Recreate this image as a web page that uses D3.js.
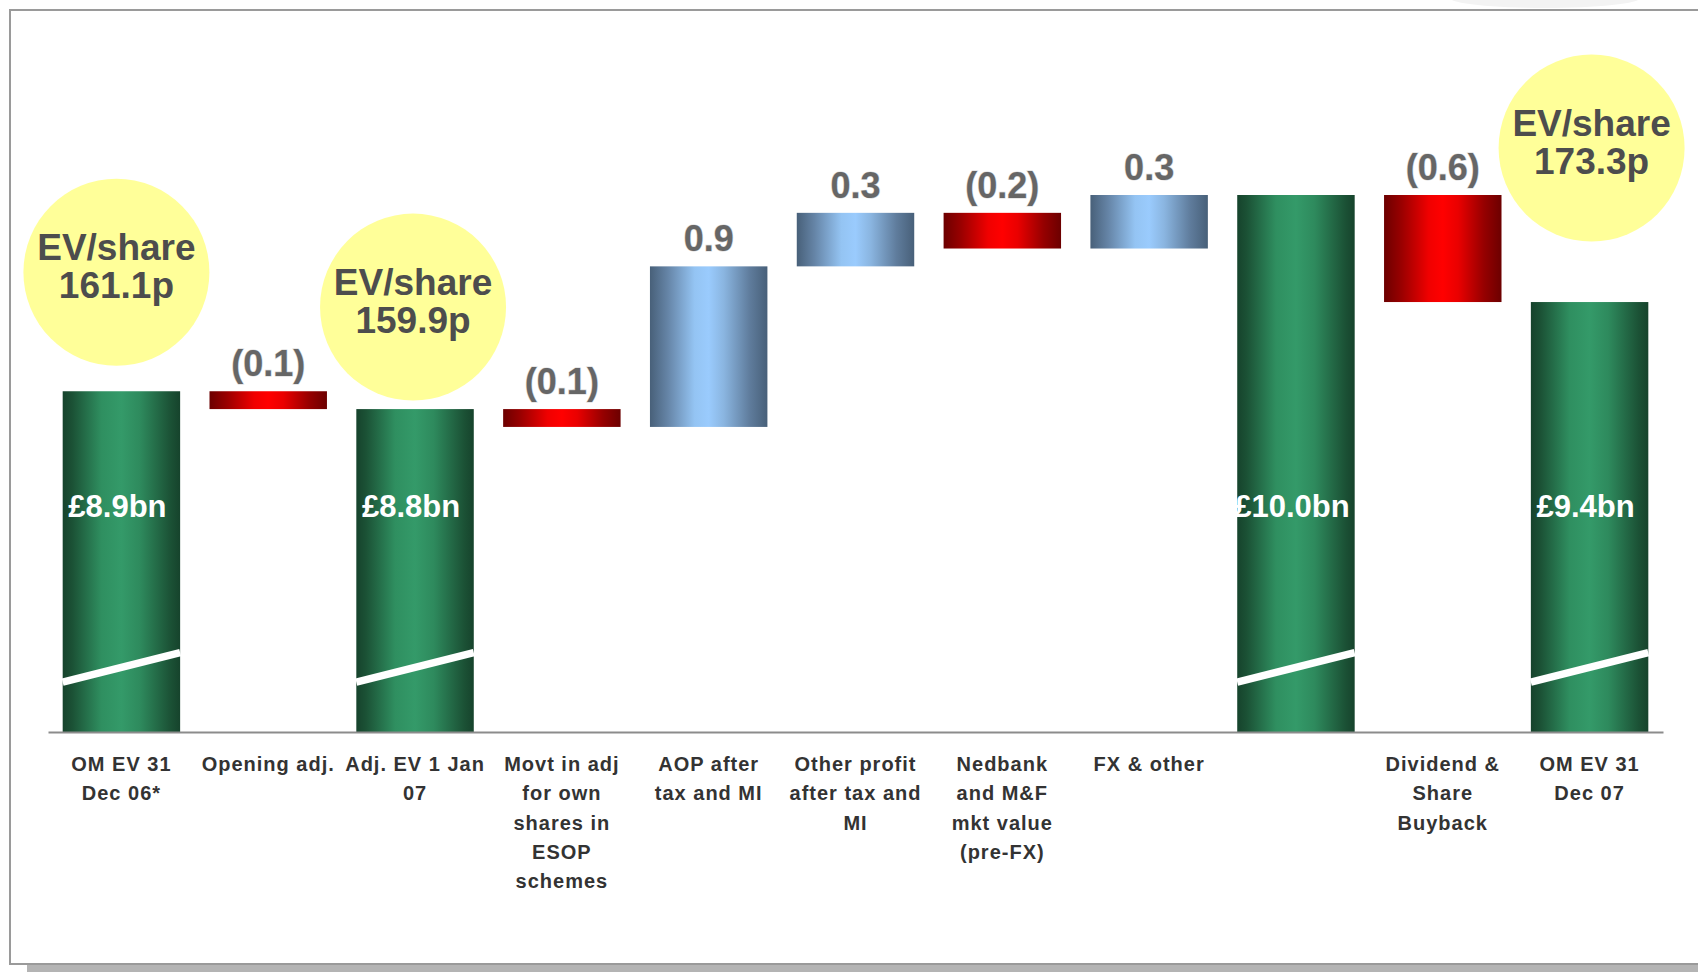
<!DOCTYPE html>
<html>
<head>
<meta charset="utf-8">
<script src="https://cdn.jsdelivr.net/npm/d3@7"></script>
<style>
  html, body { margin: 0; padding: 0; background: #ffffff; }
  svg { display: block; font-family: "Liberation Sans", Arial, Helvetica, sans-serif; }
</style>
</head>
<body>
<svg id="chart" width="1698" height="972"></svg>
<script>
// ---- data ----
const categories = [
  "OM EV 31\nDec 06*",
  "Opening adj.",
  "Adj. EV 1 Jan\n07",
  "Movt in adj\nfor own\nshares in\nESOP\nschemes",
  "AOP after\ntax and MI",
  "Other profit\nafter tax and\nMI",
  "Nedbank\nand M&F\nmkt value\n(pre-FX)",
  "FX & other",
  "",
  "Dividend &\nShare\nBuyback",
  "OM EV 31\nDec 07"
];
const barKinds = ["total", "delta", "total", "delta", "delta", "delta", "delta", "delta", "total", "delta", "total"];
const values = [8.9, -0.1, 8.8, -0.1, 0.9, 0.3, -0.2, 0.3, 10.0, -0.6, 9.4];
const evShareLabels = ["161.1p", null, "159.9p", null, null, null, null, null, null, null, "173.3p"];
const evTitle = "EV/share";
const yDomain = [6.99, 10.0];

// ---- layout ----
const W = 1698, H = 972;
const svg = d3.select("#chart");
const x = d3.scaleBand().domain(d3.range(categories.length)).range([48, 1663])
  .paddingInner(0.2).paddingOuter(0.1);
const y = d3.scaleLinear().domain(yDomain).range([732, 195]);
const evOffsetY = [119, 0, 102, 0, 0, 0, 0, 0, 0, 0, 154];
const evOffsetX = [-5, 0, -2, 0, 0, 0, 0, 0, 0, 0, 2];

// gradients
const defs = svg.append("defs");
function grad(id, stops) {
  const g = defs.append("linearGradient").attr("id", id).attr("x1", "0").attr("x2", "1").attr("y1", "0").attr("y2", "0");
  stops.forEach(s => g.append("stop").attr("offset", s[0]).attr("stop-color", s[1]));
}
grad("gGreen", [[0, "#16432c"], [0.08, "#1b5135"], [0.33, "#2f8f60"], [0.5, "#349a69"], [0.66, "#2e8a5d"], [0.92, "#1b5135"], [1, "#16432c"]]);
grad("gRed", [[0, "#6c0000"], [0.15, "#9a0000"], [0.38, "#f00000"], [0.5, "#ff0000"], [0.63, "#ea0000"], [0.85, "#960000"], [1, "#6c0000"]]);
grad("gBlue", [[0, "#486079"], [0.15, "#6584a6"], [0.38, "#94c4f3"], [0.5, "#9acbfd"], [0.63, "#8ab5e0"], [0.85, "#5f7c9c"], [1, "#486079"]]);

// frame and shadow
svg.append("rect").attr("x", 27).attr("y", 965).attr("width", W - 27).attr("height", 7).attr("fill", "#b4b4b4");
svg.append("ellipse").attr("cx", 1545).attr("cy", -2).attr("rx", 95).attr("ry", 10).attr("fill", "#f3f3f3");
svg.append("rect").attr("x", 10).attr("y", 10).attr("width", W + 20).attr("height", 954)
  .attr("fill", "none").attr("stroke", "#9a9a9a").attr("stroke-width", 2);

// waterfall computation
let running = 0;
const bars = values.map((v, i) => {
  let lo, hi;
  if (barKinds[i] === "total") { lo = yDomain[0]; hi = v; running = v; }
  else { const s = running; running = s + v; lo = Math.min(s, running); hi = Math.max(s, running); }
  return { i, v, kind: barKinds[i], lo, hi };
});

const fillFor = d => d.kind === "total" ? "url(#gGreen)" : (d.v < 0 ? "url(#gRed)" : "url(#gBlue)");

svg.append("g").selectAll("rect").data(bars).join("rect")
  .attr("x", d => x(d.i)).attr("width", x.bandwidth())
  .attr("y", d => y(d.hi)).attr("height", d => y(d.lo) - y(d.hi))
  .attr("fill", fillFor);

// axis break marks on total bars
const totals = bars.filter(d => d.kind === "total");
svg.append("g").selectAll("line").data(totals).join("line")
  .attr("x1", d => x(d.i)).attr("x2", d => x(d.i) + x.bandwidth())
  .attr("y1", y(7.27)).attr("y2", y(7.435))
  .attr("stroke", "#ffffff").attr("stroke-width", 7.5);

// total labels inside green bars
svg.append("g").selectAll("text").data(totals).join("text")
  .attr("x", d => x(d.i) + x.bandwidth() / 2 - 4).attr("y", 517)
  .attr("text-anchor", "middle").attr("fill", "#ffffff")
  .attr("font-size", 31).attr("font-weight", "bold")
  .text(d => "£" + d.v.toFixed(1) + "bn");

// delta labels
const deltas = bars.filter(d => d.kind === "delta");
svg.append("g").selectAll("text").data(deltas).join("text")
  .attr("x", d => x(d.i) + x.bandwidth() / 2).attr("y", d => y(d.hi) - 15)
  .attr("text-anchor", "middle").attr("fill", "#666666")
  .attr("font-size", 36).attr("font-weight", "bold")
  .style("paint-order", "stroke").attr("stroke", "#d8d8d8").attr("stroke-width", 1.2)
  .text(d => d.v < 0 ? "(" + Math.abs(d.v).toFixed(1) + ")" : d.v.toFixed(1));

// axis
const axisG = svg.append("g").attr("transform", "translate(0,732)")
  .call(d3.axisBottom(x).tickSize(0).tickFormat(i => categories[i]));
axisG.select(".domain").attr("stroke", "#8c8c8c").attr("stroke-width", 2);
axisG.selectAll(".tick text").each(function(i) {
  const t = d3.select(this);
  const lines = categories[i].split("\n");
  t.text(null).attr("y", 0).attr("dy", null)
    .attr("fill", "#333333").attr("font-size", 20).attr("font-weight", "bold")
    .attr("font-family", "'Liberation Sans', Arial, sans-serif")
    .style("letter-spacing", "1px");
  lines.forEach((ln, k) => t.append("tspan").attr("x", 0).attr("y", 39 + k * 29.3).text(ln));
});

// EV/share bubbles
const evData = evShareLabels.map((l, i) => ({ l, i })).filter(d => d.l);
const evG = svg.append("g").selectAll("g").data(evData).join("g")
  .attr("transform", d => `translate(${x(d.i) + x.bandwidth() / 2 + evOffsetX[d.i]},${y(bars[d.i].hi) - evOffsetY[d.i]})`);
evG.append("ellipse").attr("rx", 93).attr("ry", 93.5).attr("fill", "#ffff99");
evG.append("text").attr("y", -12).attr("text-anchor", "middle").attr("fill", "#4d4d4d")
  .attr("font-size", 37).attr("font-weight", "bold").text(evTitle);
evG.append("text").attr("y", 26).attr("text-anchor", "middle").attr("fill", "#4d4d4d")
  .attr("font-size", 37).attr("font-weight", "bold").text(d => d.l);
</script>
</body>
</html>
